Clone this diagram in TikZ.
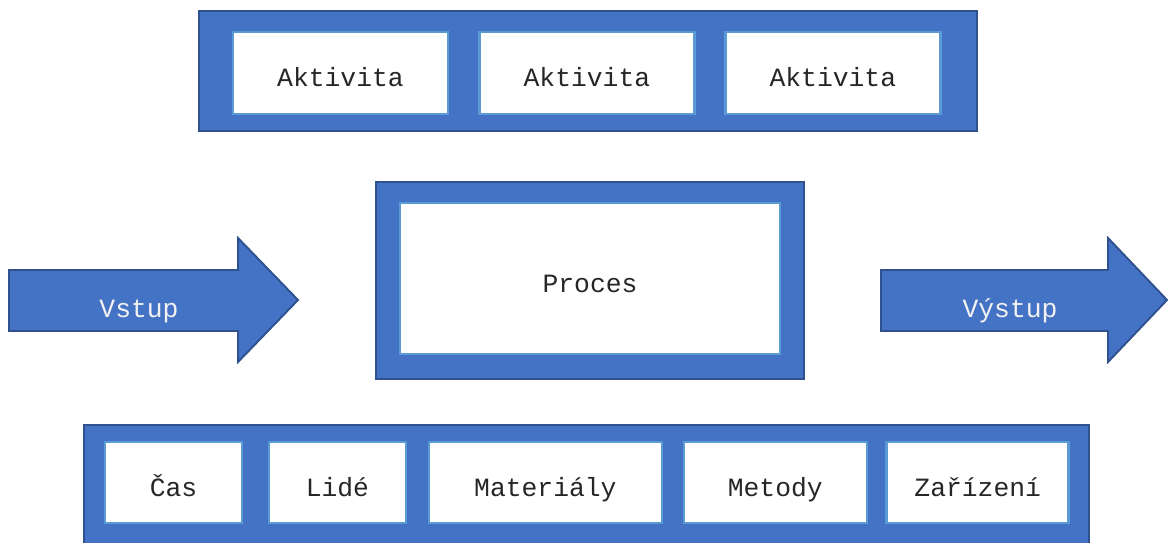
\documentclass[tikz,border=0pt]{standalone}
\usepackage{fontspec}
\setmonofont{Liberation Mono}
\usetikzlibrary{positioning}
\definecolor{wordblue}{RGB}{68,114,196}
\definecolor{wordedge}{RGB}{47,82,143}
\definecolor{celledge}{RGB}{91,155,213}
\definecolor{ink}{RGB}{38,38,38}
\tikzset{
  panel/.style={draw=wordedge,line width=1.1pt,fill=wordblue,inner sep=0pt},
  cell/.style={draw=celledge,line width=1.4pt,fill=white,inner sep=0pt,minimum height=1.63cm,
    font=\ttfamily\fontsize{15}{18}\selectfont,text=ink,text height=0.56cm,text depth=0pt},
  actcell/.style={cell,minimum width=4.3cm},
  flow/.style={draw=wordedge,line width=1.1pt,fill=wordblue},
  flowtext/.style={font=\ttfamily\fontsize{15}{18}\selectfont,text=white!95!black,text height=0.72cm,text depth=0pt,inner sep=0pt}
}
\begin{document}
\begin{tikzpicture}[x=0.02cm,y=-0.02cm]
  \useasboundingbox (0,0) rectangle (1168,543);
  % activities
  \node[panel,minimum width=15.56cm,minimum height=2.4cm] (activities) at (588,71) {};
  \node[actcell] (act1) at (340.5,73) {Aktivita};
  \node[actcell,right=0.58cm of act1] (act2) {Aktivita};
  \node[actcell,right=0.57cm of act2] (act3) {Aktivita};
  % process
  \node[panel,minimum width=8.56cm,minimum height=3.94cm] (procframe) at (590,280.5) {};
  \node[cell,minimum width=7.6cm,minimum height=3.02cm] (proces) at (590,278.5) {Proces};
  % input and output
  \draw[flow] (9,270) -- (238,270) -- (238,238) -- (298,300) -- (238,362) -- (238,331) -- (9,331) -- cycle;
  \node[flowtext] (vstup) at (139,300) {Vstup};
  \draw[flow] (881,270) -- (1108,270) -- (1108,238) -- (1167,300) -- (1108,362) -- (1108,331) -- (881,331) -- cycle;
  \node[flowtext] (vystup) at (1010,300) {Výstup};
  % resources
  \node[panel,minimum width=20.1cm,minimum height=2.7cm] (resources) at (586.5,492.5) {};
  \node[cell,minimum width=2.74cm] (cas) at (173.5,482.5) {Čas};
  \node[cell,minimum width=2.74cm,right=0.49cm of cas] (lide) {Lidé};
  \node[cell,minimum width=4.66cm,right=0.41cm of lide] (material) {Materiály};
  \node[cell,minimum width=3.66cm,right=0.39cm of material] (metody) {Metody};
  \node[cell,minimum width=3.64cm,right=0.35cm of metody] (zarizeni) {Zařízení};
\end{tikzpicture}
\end{document}
